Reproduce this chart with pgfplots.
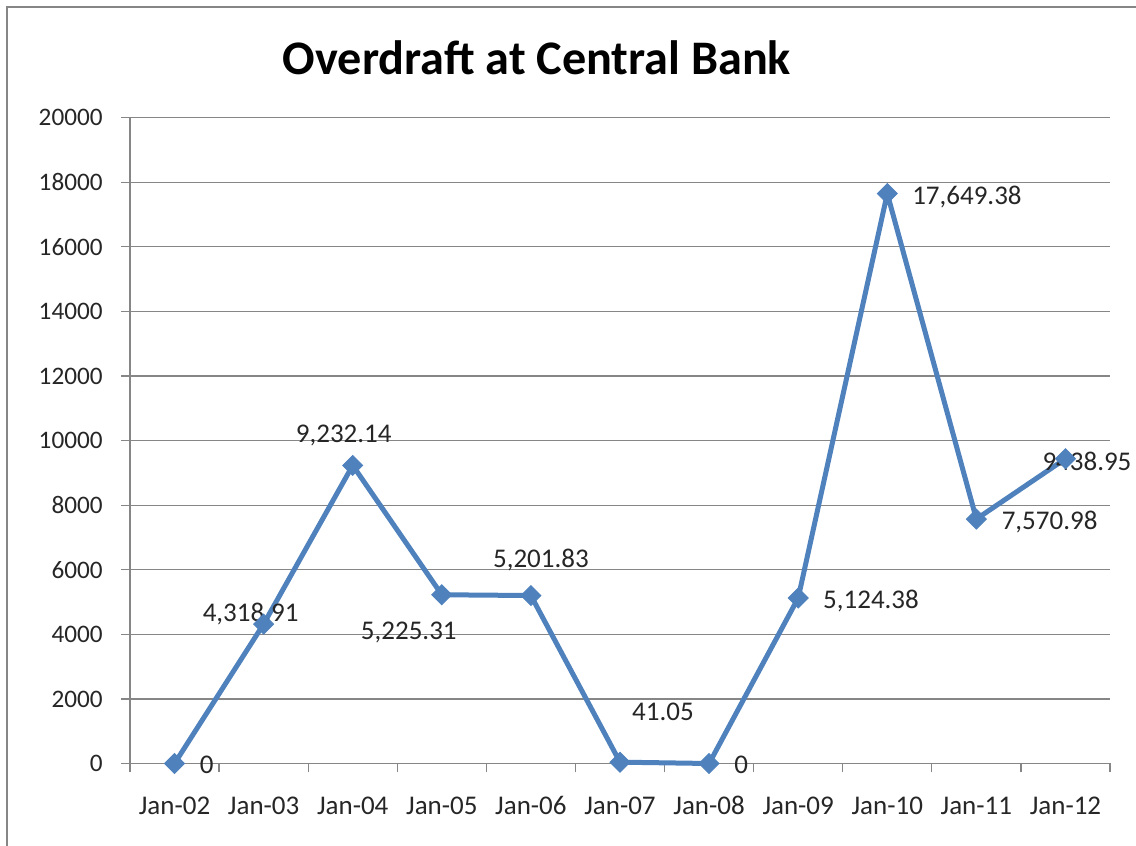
\documentclass[border=0pt]{standalone}
\usepackage{fontspec}
\setmainfont{Carlito}
\usepackage{pgfplots}
\pgfplotsset{compat=1.18}

\definecolor{xlblue}{HTML}{4F81BD}
\definecolor{xlgrid}{HTML}{868686}

% overdraft values, one per January
\pgfplotstableread{
x y
1 0
2 4318.91
3 9232.14
4 5225.31
5 5201.83
6 41.05
7 0
8 5124.38
9 17649.38
10 7570.98
11 9438.95
}\overdraft

\begin{document}
\begin{tikzpicture}
% chart frame (only the left and top edges fall inside the picture)
\begin{scope}[x=0.5pt,y=0.5pt]
\draw[xlgrid, line width=1pt] (1150,839) -- (7,839) -- (7,-10);
\node[font=\bfseries\fontsize{24.1}{27}\selectfont, anchor=center] at (537,788) {Overdraft at Central Bank};
\end{scope}

\begin{axis}[
    at={(65pt,41.25pt)}, anchor=south west,
    scale only axis,
    width=490pt, height=322.9pt,
    xmin=0.5, xmax=11.5,
    ymin=0, ymax=20000,
    axis lines*=left,
    axis line style={xlgrid, line width=0.6pt},
    xtick={1,...,11},
    xticklabels={Jan-02,Jan-03,Jan-04,Jan-05,Jan-06,Jan-07,Jan-08,Jan-09,Jan-10,Jan-11,Jan-12},
    minor xtick={0.5,1.5,...,11.5},
    major x tick style={draw=none},
    ytick={0,2000,...,20000},
    tick align=outside,
    major tick length=4.5pt, minor tick length=4.5pt,
    tick style={xlgrid, line width=0.6pt},
    ymajorgrids,
    grid style={xlgrid, line width=0.6pt},
    yticklabel style={font=\fontsize{12.6}{14}\selectfont, text=black!85, anchor=east, inner sep=0pt, xshift=-9pt},
    xticklabel style={font=\fontsize{13.5}{15}\selectfont, text=black!85, anchor=base, yshift=-21pt},
    /pgf/number format/assume math mode=true,
    /pgf/number format/set thousands separator={},
    scaled y ticks=false,
    clip=false,
]
\addplot[xlblue, line width=2.5pt, mark=square*, mark size=3.5pt,
    mark options={rotate=45, line width=0.5pt}] table[x=x,y=y] {\overdraft};

\begin{scope}[font=\fontsize{13.5}{15}\selectfont, inner sep=0pt, text=black!85]
\node[anchor=base west, xshift=12.5pt, yshift=-5.25pt] at (axis cs:1,0) {0};
\node[anchor=base, xshift=-6.5pt, yshift=1.15pt] at (axis cs:2,4318.91) {4,318.91};
\node[anchor=base, xshift=-4.5pt, yshift=11.2pt] at (axis cs:3,9232.14) {9,232.14};
\node[anchor=base, xshift=-16.5pt, yshift=-22.5pt] at (axis cs:4,5225.31) {5,225.31};
\node[anchor=base, xshift=5pt, yshift=14.25pt] at (axis cs:5,5201.83) {5,201.83};
\node[anchor=base, xshift=21.5pt, yshift=20.75pt] at (axis cs:6,41.05) {41.05};
\node[anchor=base west, xshift=12.5pt, yshift=-5.25pt] at (axis cs:7,0) {0};
\node[anchor=base west, xshift=12.3pt, yshift=-5.25pt] at (axis cs:8,5124.38) {5,124.38};
\node[anchor=base west, xshift=12.3pt, yshift=-5.25pt] at (axis cs:9,17649.38) {17,649.38};
\node[anchor=base west, xshift=12.5pt, yshift=-5.25pt] at (axis cs:10,7570.98) {7,570.98};
\node[anchor=base, xshift=10.75pt, yshift=-5.65pt] at (axis cs:11,9438.95) {9438.95};
\end{scope}
\end{axis}

\pgfresetboundingbox
\useasboundingbox (0,0) rectangle (568pt,423pt);
\end{tikzpicture}
\end{document}
